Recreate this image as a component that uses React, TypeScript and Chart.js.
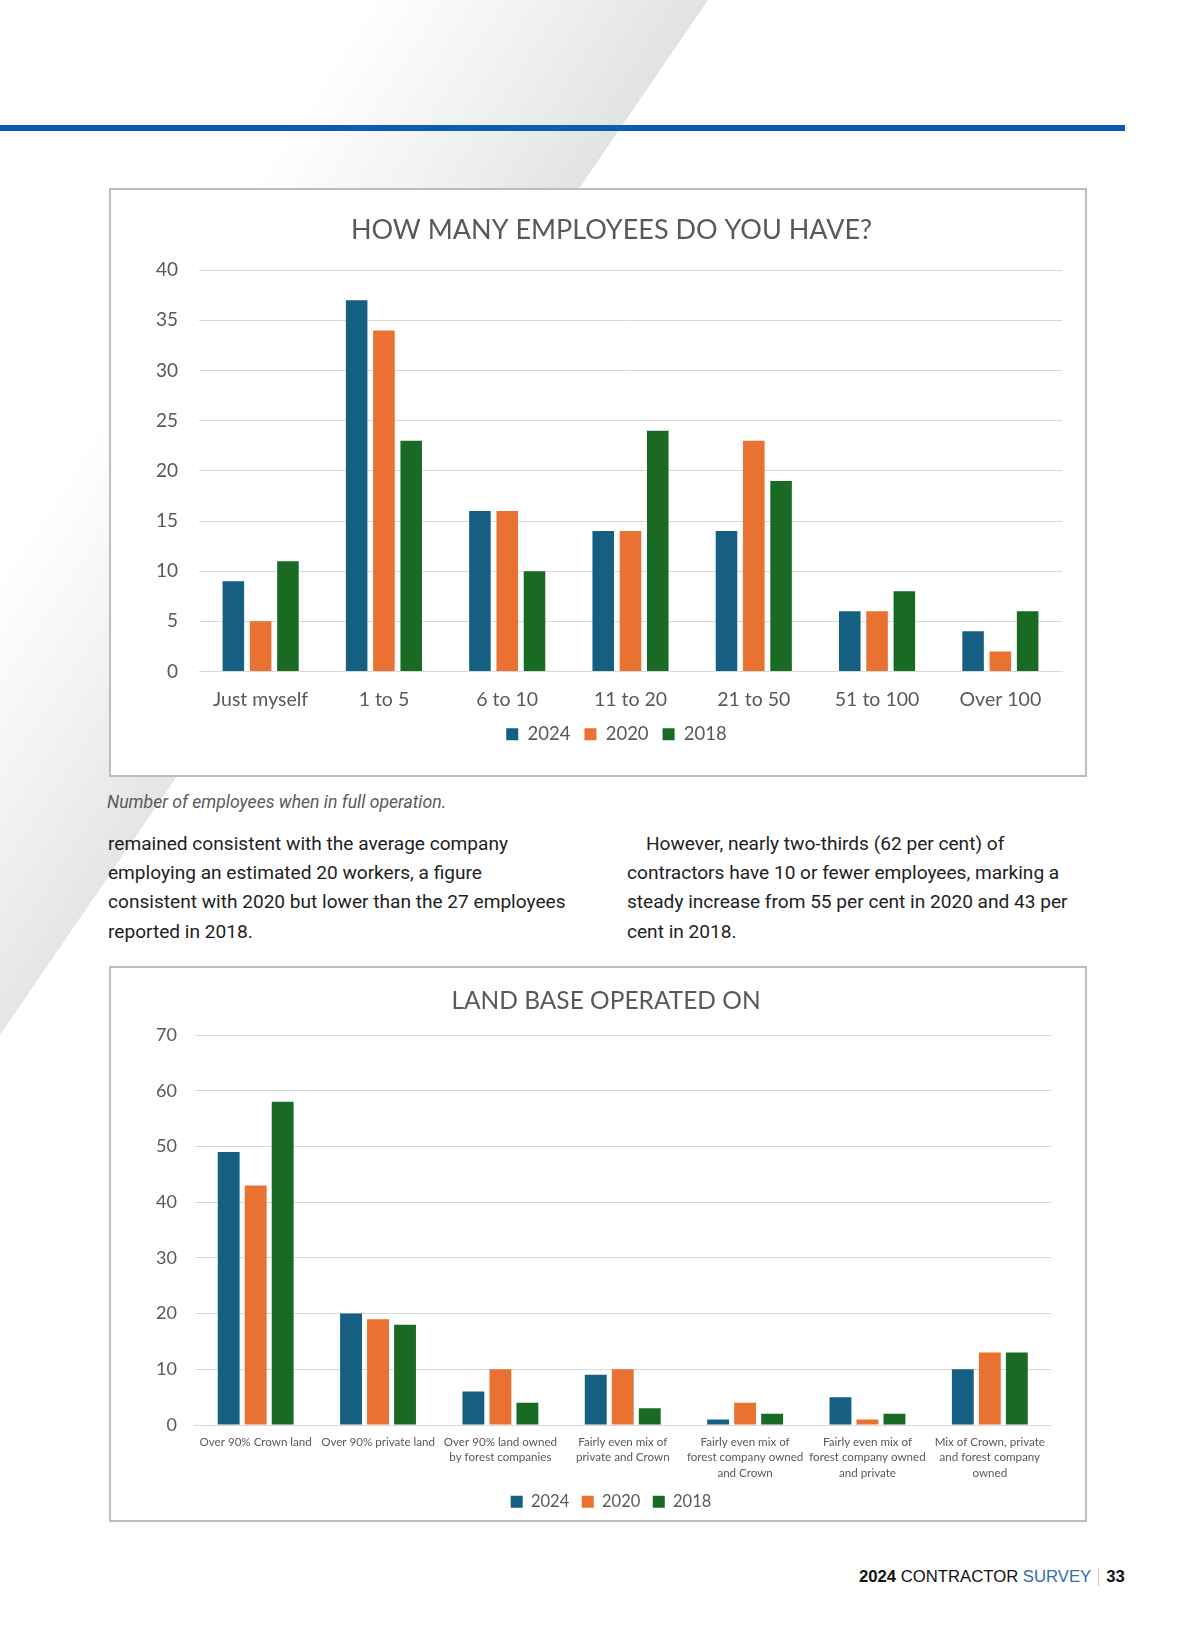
import React, { useEffect, useRef } from "react";
import { Chart, registerables } from "chart.js";

Chart.register(...registerables);

// ---------- DATA ----------
const seriesLabels = ["2024", "2020", "2018"];
const seriesColors = ["#156082", "#E97132", "#196B24"];

const employeeTitle = "HOW MANY EMPLOYEES DO YOU HAVE?";
const employeeCategories = ["Just myself", "1 to 5", "6 to 10", "11 to 20", "21 to 50", "51 to 100", "Over 100"];
const employees2024 = [9, 37, 16, 14, 14, 6, 4];
const employees2020 = [5, 34, 16, 14, 23, 6, 2];
const employees2018 = [11, 23, 10, 24, 19, 8, 6];
const employeeAxisMax = 40;
const employeeAxisStep = 5;

const landTitle = "LAND BASE OPERATED ON";
const landCategories = [
  ["Over 90% Crown land"],
  ["Over 90% private land"],
  ["Over 90% land owned", "by forest companies"],
  ["Fairly even mix of", "private and Crown"],
  ["Fairly even mix of", "forest company owned", "and Crown"],
  ["Fairly even mix of", "forest company owned", "and private"],
  ["Mix of Crown, private", "and forest company", "owned"],
];
const land2024 = [49, 20, 6, 9, 1, 5, 10];
const land2020 = [43, 19, 10, 10, 4, 1, 13];
const land2018 = [58, 18, 4, 3, 2, 2, 13];
const landAxisMax = 70;
const landAxisStep = 10;

const captionText = "Number of employees when in full operation.";
const leftColumn = [
  "remained consistent with the average company",
  "employing an estimated 20 workers, a figure",
  "consistent with 2020 but lower than the 27 employees",
  "reported in 2018.",
];
const rightColumn = [
  "However, nearly two-thirds (62 per cent) of",
  "contractors have 10 or fewer employees, marking a",
  "steady increase from 55 per cent in 2020 and 43 per",
  "cent in 2018.",
];

// ---------- CHART CONFIG ----------
const FONT = "Lato, 'Open Sans', sans-serif";
const TEXT = "#595959";
const GRID = "#d9d9d9";

// shifts the title and legend blocks horizontally after layout
const boxShiftPlugin = {
  id: "boxShift",
  afterLayout(chart: any, _args: any, opts: any) {
    const t = chart.titleBlock;
    if (t && opts.title) { t.left += opts.title; t.right += opts.title; }
    const l = chart.legend;
    if (l && opts.legend) { l.left += opts.legend; l.right += opts.legend; }
  },
};

type P = {
  labels: any[];
  series: number[][];
  title: string;
  titleSize: number;
  titlePadB: number;
  padT: number; padB: number; padL: number; padR: number;
  yMax: number; yStep: number; yFont: number; yPad: number; yAxisW: number;
  xFont: number; xLH: number; xPad: number; xAxisH: number;
  legendFont: number; legendPad: number;
  barPct: number; catPct: number;
  shiftTitle: number; shiftLegend: number;
};

function buildConfig(p: P): any {
  return {
    type: "bar",
    data: {
      labels: p.labels,
      datasets: seriesLabels.map((l, i) => ({
        label: l,
        data: p.series[i],
        backgroundColor: seriesColors[i],
        borderWidth: 0,
        barPercentage: p.barPct,
        categoryPercentage: p.catPct,
      })),
    },
    plugins: [boxShiftPlugin],
    options: {
      responsive: false,
      animation: false,
      devicePixelRatio: 1,
      layout: { padding: { left: p.padL, right: p.padR, top: p.padT, bottom: p.padB } },
      plugins: {
        boxShift: { title: p.shiftTitle, legend: p.shiftLegend },
        title: {
          display: true,
          text: p.title,
          color: TEXT,
          font: { family: FONT, size: p.titleSize, weight: "normal", lineHeight: 1.2 },
          padding: { top: 0, bottom: p.titlePadB },
        },
        legend: {
          position: "bottom",
          labels: {
            boxWidth: 12,
            boxHeight: 12,
            padding: p.legendPad,
            color: TEXT,
            font: { family: FONT, size: p.legendFont },
          },
        },
        tooltip: { enabled: false },
      },
      scales: {
        x: {
          grid: { display: false, drawTicks: false },
          border: { display: true, color: GRID, width: 1 },
          ticks: {
            color: TEXT,
            font: { family: FONT, size: p.xFont, lineHeight: p.xLH },
            padding: p.xPad,
            maxRotation: 0,
            minRotation: 0,
            autoSkip: false,
          },
          afterFit: (s: any) => { s.height = p.xAxisH; },
        },
        y: {
          min: 0,
          max: p.yMax,
          grid: { color: GRID, lineWidth: 1, drawTicks: false },
          border: { display: false },
          ticks: {
            stepSize: p.yStep,
            color: TEXT,
            font: { family: FONT, size: p.yFont },
            padding: p.yPad,
          },
          afterFit: (s: any) => { s.width = p.yAxisW; },
        },
      },
    },
  };
}

const employeeConfig = buildConfig({
  labels: employeeCategories,
  series: [employees2024, employees2020, employees2018],
  title: employeeTitle,
  titleSize: 27, titlePadB: 23.3,
  padT: 24.5, padB: 21.4, padL: 40, padR: 23,
  yMax: employeeAxisMax, yStep: employeeAxisStep, yFont: 19, yPad: 21, yAxisW: 48,
  xFont: 19.5, xLH: 1.2, xPad: 16.8, xAxisH: 39.6,
  legendFont: 18.5, legendPad: 14,
  barPct: 0.79, catPct: 0.664,
  shiftTitle: 5, shiftLegend: 10,
});

const landConfig = buildConfig({
  labels: landCategories,
  series: [land2024, land2020, land2018],
  title: landTitle,
  titleSize: 24.5, titlePadB: 19.6,
  padT: 18, padB: 0, padL: 40, padR: 34,
  yMax: landAxisMax, yStep: landAxisStep, yFont: 18, yPad: 17.5, yAxisW: 43.5,
  xFont: 11.6, xLH: 1.34, xPad: 9.2, xAxisH: 56,
  legendFont: 16.5, legendPad: 12.5,
  barPct: 0.81, catPct: 0.662,
  shiftTitle: 5, shiftLegend: 10,
});

function ChartCanvas({ config, left, top, width, height }: any) {
  const ref = useRef<HTMLCanvasElement>(null);
  useEffect(() => {
    const chart = new Chart(ref.current as HTMLCanvasElement, config);
    return () => chart.destroy();
  }, [config]);
  return (
    <canvas
      ref={ref}
      width={width}
      height={height}
      style={{ position: "absolute", left, top, width, height, display: "block" }}
    />
  );
}

const BODY_FONT = "Roboto, 'Open Sans', sans-serif";

export default function App() {
  return (
    <div
      style={{
        position: "absolute",
        left: 0,
        top: 0,
        width: 1200,
        height: 1631,
        background: "#ffffff",
        overflow: "hidden",
        fontFamily: BODY_FONT,
      }}
    >
      {/* diagonal grey band */}
      <svg width={1200} height={1631} style={{ position: "absolute", left: 0, top: 0 }}>
        <defs>
          <linearGradient id="band" gradientUnits="userSpaceOnUse" x1={470} y1={-154} x2={708} y2={0}>
            <stop offset="0" stopColor="#e3e4e6" stopOpacity={0} />
            <stop offset="0.45" stopColor="#e3e4e6" stopOpacity={0.45} />
            <stop offset="1" stopColor="#e1e2e4" stopOpacity={1} />
          </linearGradient>
        </defs>
        <polygon points="0,0 708,0 0,1035" fill="url(#band)" />
      </svg>

      {/* blue rule */}
      <div style={{ position: "absolute", left: 0, top: 125, width: 1125, height: 6, background: "#0a5cb5" }} />

      {/* chart 1 box */}
      <div
        style={{
          position: "absolute",
          left: 109,
          top: 188,
          width: 974,
          height: 585,
          border: "2px solid #bdbdbd",
          background: "#ffffff",
        }}
      />
      <ChartCanvas config={employeeConfig} left={111} top={190} width={974} height={585} />

      {/* caption */}
      <div
        style={{
          position: "absolute",
          left: 107,
          top: 791,
          fontSize: 17.6,
          lineHeight: "22px",
          fontStyle: "italic",
          color: "#5a5a5a",
          whiteSpace: "nowrap",
        }}
      >
        {captionText}
      </div>

      {/* body columns */}
      {leftColumn.map((t, i) => (
        <div
          key={"l" + i}
          style={{
            position: "absolute",
            left: 108,
            top: 829 + i * 29.2,
            fontSize: 19.1,
            lineHeight: "29px",
            color: "#1e1e1e",
            whiteSpace: "nowrap",
          }}
        >
          {t}
        </div>
      ))}
      {rightColumn.map((t, i) => (
        <div
          key={"r" + i}
          style={{
            position: "absolute",
            left: i === 0 ? 646 : 627,
            top: 829 + i * 29.2,
            fontSize: 19.1,
            lineHeight: "29px",
            color: "#1e1e1e",
            whiteSpace: "nowrap",
          }}
        >
          {t}
        </div>
      ))}

      {/* chart 2 box */}
      <div
        style={{
          position: "absolute",
          left: 109,
          top: 966,
          width: 974,
          height: 552,
          border: "2px solid #bdbdbd",
          background: "#ffffff",
        }}
      />
      <ChartCanvas config={landConfig} left={111} top={968} width={974} height={552} />

      {/* footer */}
      <div
        style={{
          position: "absolute",
          left: 859,
          top: 1566,
          height: 22,
          display: "flex",
          alignItems: "center",
          fontFamily: "'Liberation Sans', Arial, sans-serif",
          fontSize: 16.7,
          whiteSpace: "nowrap",
          color: "#111",
        }}
      >
        <span style={{ fontWeight: 700 }}>2024</span>
        <span>&nbsp;CONTRACTOR&nbsp;</span>
        <span style={{ color: "#2f6dab" }}>SURVEY</span>
        <span style={{ display: "inline-block", width: 1, height: 18, background: "#cfcfcf", margin: "0 7px 0 7px" }} />
        <span style={{ fontWeight: 700 }}>33</span>
      </div>
    </div>
  );
}
